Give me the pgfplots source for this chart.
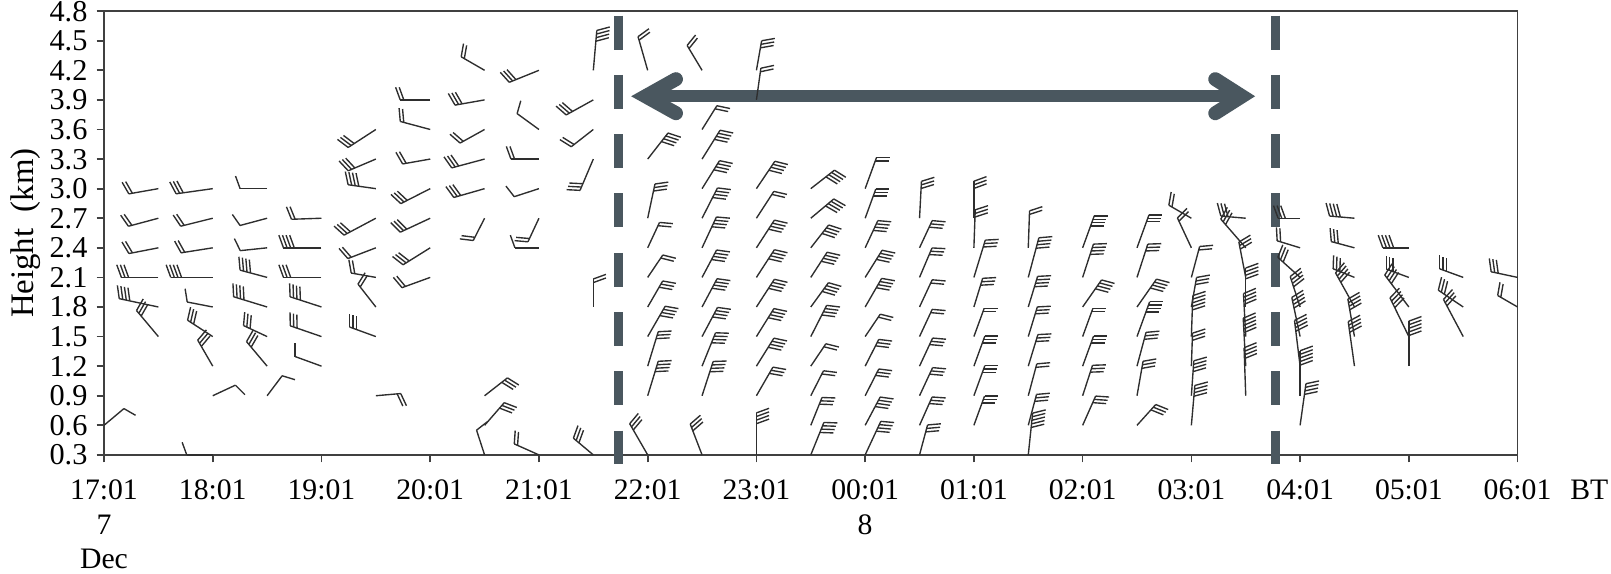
\documentclass[border=0pt]{standalone}
\usepackage{fontspec}
\setmainfont{Liberation Serif}
\usepackage{pgfplots}
\usepackage{pgfplotstable}
\pgfplotsset{compat=1.18}
\definecolor{dg}{RGB}{74,87,95}

\pgfdeclareplotmark{barb}{%
  \pgfmathsetmacro\bL{\barbL*0.35}%
  \pgfmathsetmacro\bA{\barbA}%
  \pgfmathsetmacro\fA{\barbA-70}%
  \pgfmathtruncatemacro\bN{\barbN}%
  \pgfpathmoveto{\pgfpointorigin}%
  \pgfpathlineto{\pgfpointpolar{\bA}{\bL pt}}%
  \pgfusepathqstroke
  \ifnum\bN>0
    \foreach \k in {1,...,\bN}{%
      \pgfmathsetmacro\pos{\bL-(\k-1)*1.26}%
      \pgfpathmoveto{\pgfpointpolar{\bA}{\pos pt}}%
      \pgfpathlineto{\pgfpointadd{\pgfpointpolar{\bA}{\pos pt}}{\pgfpointpolar{\fA}{4.7pt}}}%
      \pgfusepathqstroke
    }%
  \fi
}

\pgfplotstableread{
t h a L n
0 0.6 40 26 1
0.5 3.0 190 30 2
0.5 2.7 195 31 2
0.5 2.4 191 30 2
0.5 2.1 180 37 3
0.5 1.8 168 40 4
0.5 1.5 130 34 3
1 3.0 188 37 3
1 2.7 194 33 2
1 2.4 189 32 2
1 2.1 180 42 4
1 1.8 169 26 1
1 1.5 147 30 3
1 1.2 120 30 3
1 0.9 25 25 1
1 0.3 180 26 1
1.5 3.0 180 27 1
1.5 2.7 195 28 1
1.5 2.4 186 27 1
1.5 2.1 165 28 4
1.5 1.8 163 35 4
1.5 1.5 155 26 3
1.5 1.2 130 32 3
1.5 0.9 53 25 1
2 2.7 182 30 2
2 2.4 180 38 4
2 2.1 180 38 3
2 1.8 162 33 4
2 1.5 161 33 3
2 1.2 160 28 1
2.5 3.6 213 33 3
2.5 3.3 203 30 3
2.5 3.0 172 28 4
2.5 2.7 208 36 3
2.5 2.4 201 30 2
2.5 2.1 170 25 2
2.5 1.8 128 29 2
2.5 1.5 160 28 3
2.5 0.9 5 25 2
3 3.9 180 30 2
3 3.6 165 31 2
3 3.3 190 28 2
3 3.0 207 33 3
3 2.7 205 33 3
3 2.4 212 32 3
3 2.1 200 30 2
3.5 4.2 150 27 2
3.5 3.9 190 30 3
3.5 3.6 209 28 2
3.5 3.3 195 34 3
3.5 3.0 196 32 3
3.5 2.7 243 25 2
3.5 0.9 38 29 3
3.5 0.6 49 30 3
3.5 0.3 108 26 1
4 4.2 202 32 3
4 3.6 144 27 1
4 3.3 180 28 2
4 3.0 198 26 1
4 2.7 245 26 2
4 2.4 180 24 1
4 0.3 156 27 2
4.5 4.2 85 40 4
4.5 3.9 209 31 3
4.5 3.6 218 28 2
4.5 3.3 247 34 3
4.5 1.8 90 28 2
4.5 0.3 140 26 3
5 4.2 106 35 2
5 3.3 52 33 4
5 2.7 78 35 3
5 2.4 65 28 2
5 2.1 56 27 2
5 1.8 60 30 3
5 1.5 60 35 4
5 1.2 73 36 3
5 0.9 73 36 4
5 0.3 120 36 3
5.5 4.2 121 29 2
5.5 3.6 58 28 2
5.5 3.3 58 34 4
5.5 3.0 58 33 4
5.5 2.7 63 34 4
5.5 2.4 65 34 4
5.5 2.1 62 31 4
5.5 1.8 62 32 4
5.5 1.5 62 33 4
5.5 1.2 68 36 4
5.5 0.9 72 36 4
5.5 0.3 111 33 3
6 4.2 80 30 3
6 3.9 82 32 2
6 3.0 56 33 4
6 2.7 57 32 2
6 2.4 57 33 4
6 2.1 57 33 4
6 1.8 57 33 4
6 1.5 58 33 4
6 1.2 58 33 4
6 0.9 60 33 3
6 0.3 90 42 4
6.5 3.0 38 30 4
6.5 2.7 40 30 4
6.5 2.4 52 29 4
6.5 2.1 57 30 4
6.5 1.8 54 30 4
6.5 1.5 63 35 4
6.5 1.2 56 27 2
6.5 0.9 63 28 2
6.5 0.6 68 30 3
6.5 0.3 68 35 4
7 3.0 70 33 2
7 2.7 70 31 3
7 2.4 65 30 4
7 2.1 58 32 4
7 1.8 60 33 4
7 1.5 56 27 2
7 1.2 63 30 3
7 0.9 63 30 3
7 0.6 62 32 4
7 0.3 65 37 4
7.5 2.7 87 37 3
7.5 2.4 65 30 3
7.5 2.1 67 32 3
7.5 1.8 65 30 2
7.5 1.5 65 30 2
7.5 1.2 65 31 3
7.5 0.9 65 31 3
7.5 0.6 66 31 3
7.5 0.3 75 31 3
8 2.7 90 37 3
8 2.4 88 38 3
8 2.1 73 39 3
8 1.8 73 30 3
8 1.5 70 30 2
8 1.2 70 32 3
8 0.9 70 32 3
8 0.6 70 31 3
8.5 2.4 88 37 2
8.5 2.1 75 41 4
8.5 1.8 73 32 4
8.5 1.5 73 31 3
8.5 1.2 73 33 3
8.5 0.9 75 33 2
8.5 0.6 75 32 3
8.5 0.3 84 42 5
9 2.4 70 34 4
9 2.1 72 35 4
9 1.8 55 33 4
9 1.5 70 30 2
9 1.2 70 32 3
9 0.9 72 32 3
9 0.6 66 32 3
9.5 2.4 70 35 3
9.5 2.1 72 35 3
9.5 1.8 55 34 4
9.5 1.5 70 37 4
9.5 1.2 75 35 3
9.5 0.9 80 35 3
9.5 0.6 48 28 3
10 2.7 150 26 2
10 2.4 115 33 2
10 2.1 75 32 2
10 1.8 80 30 3
10 1.5 88 41 5
10 1.2 88 33 3
10 0.9 86 35 4
10 0.6 85 40 4
10.5 2.7 175 25 3
10.5 2.4 131 38 3
10.5 2.1 101 36 3
10.5 1.8 90 39 4
10.5 1.5 93 43 4
10.5 1.2 93 48 5
10.5 0.9 92 48 4
11 2.7 180 22 3
11 2.4 163 24 2
11 2.1 138 30 3
11 1.8 108 32 4
11 1.5 102 40 4
11 1.2 97 46 4
11 0.9 90 45 5
11 0.6 82 42 4
11.5 2.7 175 25 4
11.5 2.4 165 24 3
11.5 2.1 158 23 3
11.5 1.8 119 39 4
11.5 1.5 100 38 4
11.5 1.2 98 45 4
12 2.4 180 26 4
12 2.1 160 24 3
12 1.8 127 40 4
12 1.5 116 43 4
12 1.2 90 45 5
12.5 2.1 160 25 3
12.5 1.8 146 30 3
12.5 1.5 118 42 3
13 2.1 168 27 3
13 1.8 150 23 2
}\barbs

\begin{document}
\begin{tikzpicture}
\begin{axis}[
  scale only axis, width=494.7pt, height=155.3pt,
  xmin=0, xmax=13, ymin=0.3, ymax=4.8,
  clip=false,
  axis line style={draw=black!75, line width=0.6pt},
  tick align=outside, tick pos=left,
  major tick length=2.6pt,
  tick style={draw=black!75, line width=0.6pt},
  xtick={0,1,2,3,4,5,6,7,8,9,10,11,12,13},
  xticklabels={{17:01\\7\\Dec},18:01,19:01,20:01,21:01,22:01,23:01,{00:01\\8},01:01,02:01,03:01,04:01,05:01,{06:01\rlap{\hspace{0.64em}BT}}},
  xticklabel style={align=center, inner sep=0pt, yshift=-6.0pt, font=\fontsize{10.4}{12.1}\selectfont},
  ytick={0.3,0.6,0.9,1.2,1.5,1.8,2.1,2.4,2.7,3.0,3.3,3.6,3.9,4.2,4.5,4.8},
  yticklabel style={inner sep=0pt, xshift=-3pt, text height=7pt, text depth=0pt, font=\fontsize{10.6}{12}\selectfont,
    /pgf/number format/fixed, /pgf/number format/fixed zerofill,
    /pgf/number format/precision=1, /pgf/number format/assume math mode=true},
  ylabel={Height\ \ (km)},
  ylabel shift=3pt,
  ylabel style={inner sep=0pt, font=\fontsize{11.5}{13}\selectfont},
]
\addplot[scatter, only marks, mark=barb, line width=0.48pt,
  scatter/use mapped color={draw=black!82, fill=black!82},
  visualization depends on={\thisrow{a}\as\barbA},
  visualization depends on={\thisrow{L}\as\barbL},
  visualization depends on={\thisrow{n}\as\barbN},
] table[x=t,y=h] {\barbs};

\addplot[dg, line width=3.2pt, dash pattern=on 11.9pt off 8.85pt] coordinates {(4.73,4.755) (4.73,0.212)};
\addplot[dg, line width=3.2pt, dash pattern=on 11.9pt off 8.85pt] coordinates {(10.776,4.755) (10.776,0.212)};

\addplot[dg, line width=4.1pt] coordinates {(4.98,3.937) (10.466,3.937)};
\addplot[dg, line width=4.9pt, line cap=round, line join=miter] coordinates {(5.26,4.11) (4.98,3.937) (5.26,3.765)};
\addplot[dg, line width=4.9pt, line cap=round, line join=miter] coordinates {(10.22,4.11) (10.466,3.937) (10.22,3.765)};
\end{axis}
\pgfresetboundingbox
\path ([xshift=-36.4pt,yshift=-41.6pt]current axis.south west) rectangle ([xshift=32.7pt,yshift=3.9pt]current axis.north east);
\end{tikzpicture}
\end{document}
